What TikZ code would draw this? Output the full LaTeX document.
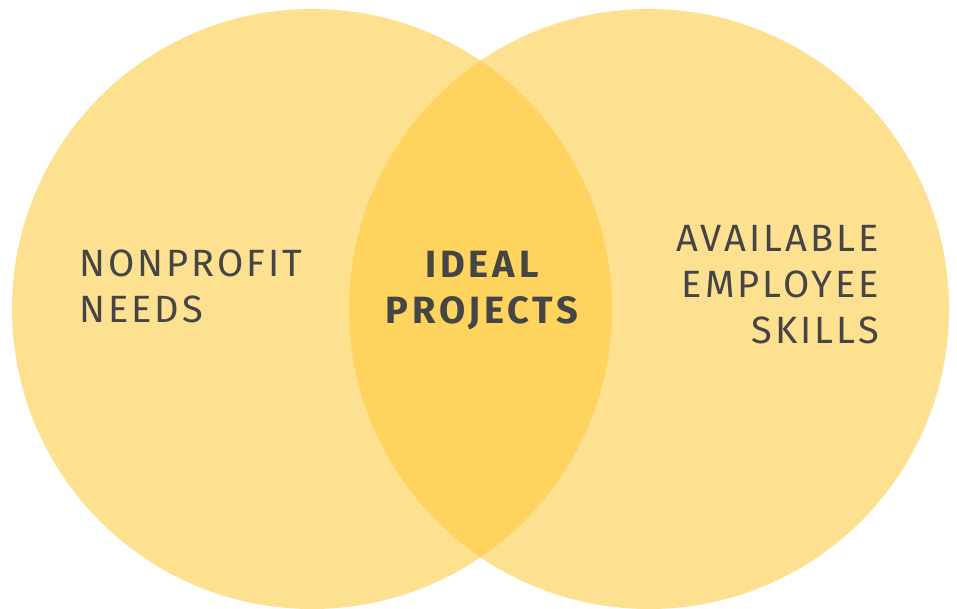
\documentclass[tikz,border=0pt]{standalone}
\usepackage{fontspec}
\usepackage{xcolor}
\usetikzlibrary{positioning}
\newfontfamily\vennfont{Fira Sans}[LetterSpace=8]
\newfontfamily\vennboldfont{Fira Sans Bold}[LetterSpace=10]
\definecolor{setfill}{HTML}{FEE091}
\definecolor{overlapfill}{HTML}{FED35E}
\definecolor{textgray}{HTML}{454545}

\begin{document}
\begin{tikzpicture}[x=1pt,y=-1pt,
  setcircle/.style={circle, fill=setfill, minimum size=600pt, inner sep=0pt},
  settext/.style={font=\vennfont\fontsize{38}{46}\selectfont, text=textgray, inner sep=0pt}]

\useasboundingbox (0,0) rectangle (957,609);

% the two sets
\node[setcircle] (needs) at (312,309) {};
\node[setcircle] (skills) at (649,309) {};

% overlap
\begin{scope}
  \clip (needs.center) circle (300);
  \fill[overlapfill] (skills.center) circle (300);
\end{scope}

% texts
\node[settext, align=left, anchor=north west] (nonprofit) at (79,250) {NONPROFIT\\NEEDS};
\node[settext, align=right, anchor=north east] (available) at (879,225) {AVAILABLE\\EMPLOYEE\\SKILLS};
\node[settext, font=\vennboldfont\fontsize{38}{46}\selectfont, align=center, anchor=north] (ideal) at (482,251) {IDEAL\\PROJECTS};

\end{tikzpicture}
\end{document}
